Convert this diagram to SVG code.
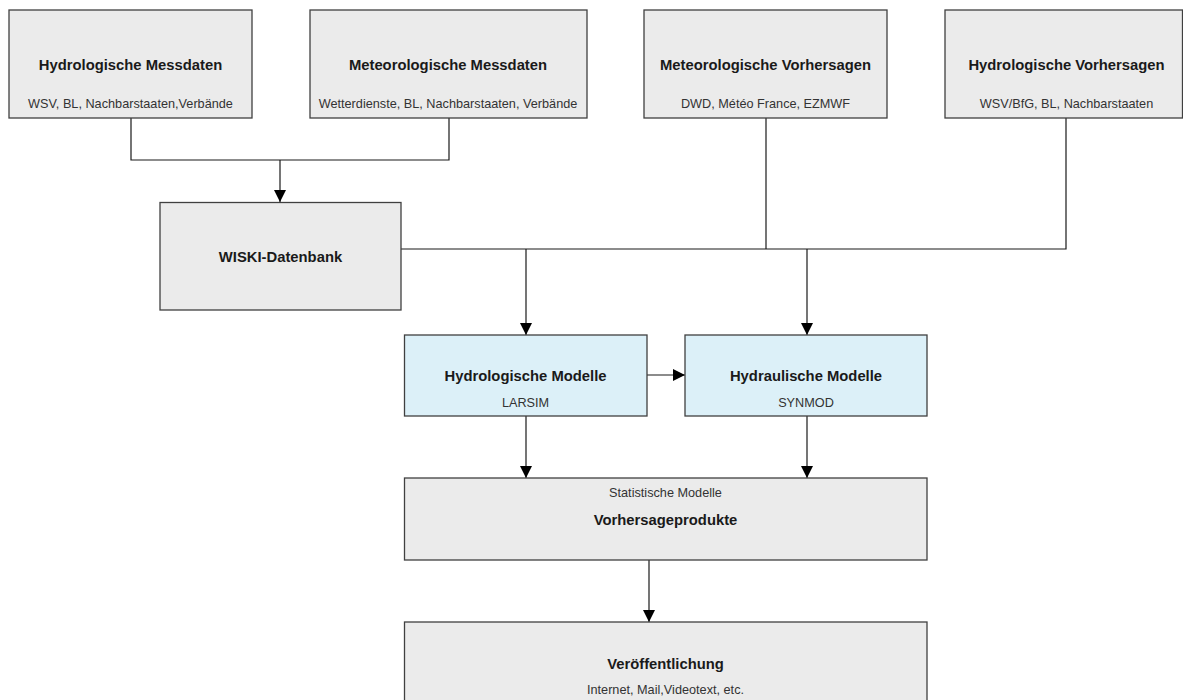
<svg xmlns="http://www.w3.org/2000/svg" width="1183" height="700" viewBox="0 0 1183 700">
<style>
.box{fill:#ebebeb;stroke:#404040;stroke-width:1.3}
.blue{fill:#dcf0f8;stroke:#404040;stroke-width:1.3}
.t{font-family:"Liberation Sans",Arial,sans-serif;font-weight:bold;font-size:14.8px;fill:#1a1a1a;text-anchor:middle}
.s{font-family:"Liberation Sans",Arial,sans-serif;font-size:12.7px;fill:#333;text-anchor:middle}
.c{fill:none;stroke:#1a1a1a;stroke-width:1.2}
</style>
<defs>
<marker id="arr" markerUnits="userSpaceOnUse" markerWidth="12" markerHeight="12" refX="12" refY="6" orient="auto">
<path d="M0,0 L12,6 L0,12 Z" fill="#000"/>
</marker>
</defs>
<rect width="1183" height="700" fill="#fff"/>
<g id="connectors">
<path class="c" d="M131,118 V160 H449 V118"/>
<path class="c" d="M280,160 V202" marker-end="url(#arr)"/>
<path class="c" d="M401,249 H1066 V118"/>
<path class="c" d="M766,118 V249"/>
<path class="c" d="M526,249 V335" marker-end="url(#arr)"/>
<path class="c" d="M807,249 V335" marker-end="url(#arr)"/>
<path class="c" d="M647,375 H685" marker-end="url(#arr)"/>
<path class="c" d="M526,416 V478" marker-end="url(#arr)"/>
<path class="c" d="M807,416 V478" marker-end="url(#arr)"/>
<path class="c" d="M649,560 V622" marker-end="url(#arr)"/>
</g>
<g id="hydro-messdaten">
<rect class="box" x="9" y="10" width="243" height="108"/>
<text class="t" x="130.5" y="70">Hydrologische Messdaten</text>
<text class="s" x="130.5" y="107.5">WSV, BL, Nachbarstaaten,Verbände</text>
</g>
<g id="meteo-messdaten">
<rect class="box" x="310" y="10" width="277" height="108"/>
<text class="t" x="448" y="70">Meteorologische Messdaten</text>
<text class="s" x="448" y="107.5">Wetterdienste, BL, Nachbarstaaten, Verbände</text>
</g>
<g id="meteo-vorhersagen">
<rect class="box" x="644" y="10" width="243" height="108"/>
<text class="t" x="765.5" y="70">Meteorologische Vorhersagen</text>
<text class="s" x="765.5" y="107.5">DWD, Météo France, EZMWF</text>
</g>
<g id="hydro-vorhersagen">
<rect class="box" x="945" y="10" width="237.5" height="108"/>
<text class="t" x="1066.5" y="70">Hydrologische Vorhersagen</text>
<text class="s" x="1066.5" y="107.5">WSV/BfG, BL, Nachbarstaaten</text>
</g>
<g id="wiski">
<rect class="box" x="160" y="202.5" width="241" height="107.5"/>
<text class="t" x="280.5" y="262">WISKI-Datenbank</text>
</g>
<g id="hydro-modelle">
<rect class="blue" x="404.5" y="335" width="242.5" height="81"/>
<text class="t" x="525.5" y="381">Hydrologische Modelle</text>
<text class="s" x="525.5" y="406.5">LARSIM</text>
</g>
<g id="hydraul-modelle">
<rect class="blue" x="685" y="335" width="242" height="81"/>
<text class="t" x="806" y="381">Hydraulische Modelle</text>
<text class="s" x="806" y="406.5">SYNMOD</text>
</g>
<g id="vorhersageprodukte">
<rect class="box" x="404.5" y="478" width="522.5" height="82"/>
<text class="s" x="665.5" y="497">Statistische Modelle</text>
<text class="t" x="665.5" y="524.5">Vorhersageprodukte</text>
</g>
<g id="veroeffentlichung">
<rect class="box" x="404.5" y="622" width="522.5" height="100"/>
<text class="t" x="665.5" y="668.5">Veröffentlichung</text>
<text class="s" x="665.5" y="693.5">Internet, Mail,Videotext, etc.</text>
</g>
</svg>
